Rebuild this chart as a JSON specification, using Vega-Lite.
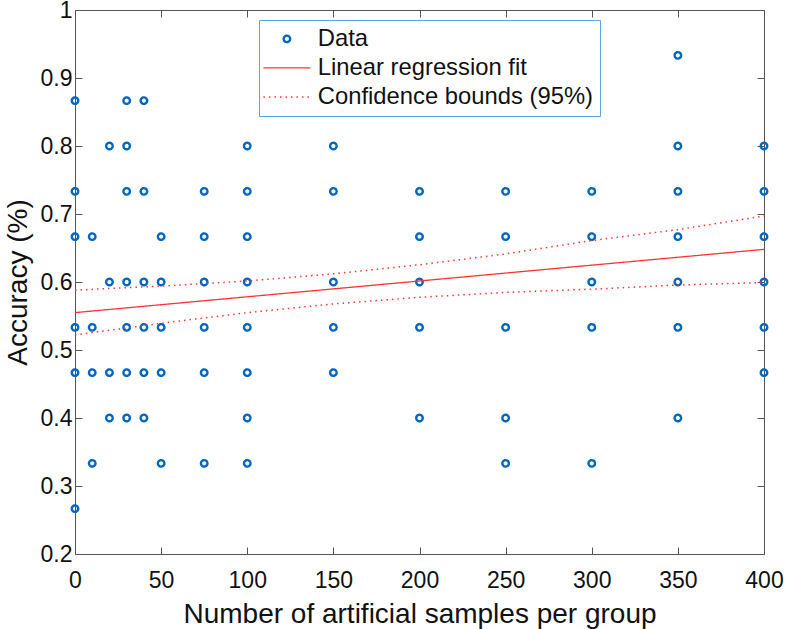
{
  "$schema": "https://vega.github.io/schema/vega-lite/v6.json",
  "width": 689,
  "height": 544,
  "autosize": "none",
  "padding": {"left": 75, "top": 10, "right": 21, "bottom": 75},
  "background": "white",
  "datasets": {
    "points": [
      {"n": 0, "acc": 0.8667, "series": "Data"},
      {"n": 0, "acc": 0.7333, "series": "Data"},
      {"n": 0, "acc": 0.6667, "series": "Data"},
      {"n": 0, "acc": 0.5333, "series": "Data"},
      {"n": 0, "acc": 0.4667, "series": "Data"},
      {"n": 0, "acc": 0.2667, "series": "Data"},
      {"n": 10, "acc": 0.6667, "series": "Data"},
      {"n": 10, "acc": 0.5333, "series": "Data"},
      {"n": 10, "acc": 0.4667, "series": "Data"},
      {"n": 10, "acc": 0.3333, "series": "Data"},
      {"n": 20, "acc": 0.8, "series": "Data"},
      {"n": 20, "acc": 0.6, "series": "Data"},
      {"n": 20, "acc": 0.4667, "series": "Data"},
      {"n": 20, "acc": 0.4, "series": "Data"},
      {"n": 30, "acc": 0.8667, "series": "Data"},
      {"n": 30, "acc": 0.8, "series": "Data"},
      {"n": 30, "acc": 0.7333, "series": "Data"},
      {"n": 30, "acc": 0.6, "series": "Data"},
      {"n": 30, "acc": 0.5333, "series": "Data"},
      {"n": 30, "acc": 0.4667, "series": "Data"},
      {"n": 30, "acc": 0.4, "series": "Data"},
      {"n": 40, "acc": 0.8667, "series": "Data"},
      {"n": 40, "acc": 0.7333, "series": "Data"},
      {"n": 40, "acc": 0.6, "series": "Data"},
      {"n": 40, "acc": 0.5333, "series": "Data"},
      {"n": 40, "acc": 0.4667, "series": "Data"},
      {"n": 40, "acc": 0.4, "series": "Data"},
      {"n": 50, "acc": 0.6667, "series": "Data"},
      {"n": 50, "acc": 0.6, "series": "Data"},
      {"n": 50, "acc": 0.5333, "series": "Data"},
      {"n": 50, "acc": 0.4667, "series": "Data"},
      {"n": 50, "acc": 0.3333, "series": "Data"},
      {"n": 75, "acc": 0.7333, "series": "Data"},
      {"n": 75, "acc": 0.6667, "series": "Data"},
      {"n": 75, "acc": 0.6, "series": "Data"},
      {"n": 75, "acc": 0.5333, "series": "Data"},
      {"n": 75, "acc": 0.4667, "series": "Data"},
      {"n": 75, "acc": 0.3333, "series": "Data"},
      {"n": 100, "acc": 0.8, "series": "Data"},
      {"n": 100, "acc": 0.7333, "series": "Data"},
      {"n": 100, "acc": 0.6667, "series": "Data"},
      {"n": 100, "acc": 0.6, "series": "Data"},
      {"n": 100, "acc": 0.5333, "series": "Data"},
      {"n": 100, "acc": 0.4667, "series": "Data"},
      {"n": 100, "acc": 0.4, "series": "Data"},
      {"n": 100, "acc": 0.3333, "series": "Data"},
      {"n": 150, "acc": 0.8, "series": "Data"},
      {"n": 150, "acc": 0.7333, "series": "Data"},
      {"n": 150, "acc": 0.6, "series": "Data"},
      {"n": 150, "acc": 0.5333, "series": "Data"},
      {"n": 150, "acc": 0.4667, "series": "Data"},
      {"n": 200, "acc": 0.7333, "series": "Data"},
      {"n": 200, "acc": 0.6667, "series": "Data"},
      {"n": 200, "acc": 0.6, "series": "Data"},
      {"n": 200, "acc": 0.5333, "series": "Data"},
      {"n": 200, "acc": 0.4, "series": "Data"},
      {"n": 250, "acc": 0.7333, "series": "Data"},
      {"n": 250, "acc": 0.6667, "series": "Data"},
      {"n": 250, "acc": 0.5333, "series": "Data"},
      {"n": 250, "acc": 0.4, "series": "Data"},
      {"n": 250, "acc": 0.3333, "series": "Data"},
      {"n": 300, "acc": 0.7333, "series": "Data"},
      {"n": 300, "acc": 0.6667, "series": "Data"},
      {"n": 300, "acc": 0.6, "series": "Data"},
      {"n": 300, "acc": 0.5333, "series": "Data"},
      {"n": 300, "acc": 0.3333, "series": "Data"},
      {"n": 350, "acc": 0.9333, "series": "Data"},
      {"n": 350, "acc": 0.8, "series": "Data"},
      {"n": 350, "acc": 0.7333, "series": "Data"},
      {"n": 350, "acc": 0.6667, "series": "Data"},
      {"n": 350, "acc": 0.6, "series": "Data"},
      {"n": 350, "acc": 0.5333, "series": "Data"},
      {"n": 350, "acc": 0.4, "series": "Data"},
      {"n": 400, "acc": 0.8, "series": "Data"},
      {"n": 400, "acc": 0.7333, "series": "Data"},
      {"n": 400, "acc": 0.6667, "series": "Data"},
      {"n": 400, "acc": 0.6, "series": "Data"},
      {"n": 400, "acc": 0.5333, "series": "Data"},
      {"n": 400, "acc": 0.4667, "series": "Data"}
    ],
    "fit": [
      {"n": 0, "acc": 0.555, "series": "Linear regression fit", "line": "fit"},
      {"n": 400, "acc": 0.648, "series": "Linear regression fit", "line": "fit"},
      {"n": 0, "acc": 0.588, "series": "Confidence bounds (95%)", "line": "upper"},
      {"n": 50, "acc": 0.594, "series": "Confidence bounds (95%)", "line": "upper"},
      {"n": 100, "acc": 0.6015, "series": "Confidence bounds (95%)", "line": "upper"},
      {"n": 150, "acc": 0.612, "series": "Confidence bounds (95%)", "line": "upper"},
      {"n": 200, "acc": 0.6253, "series": "Confidence bounds (95%)", "line": "upper"},
      {"n": 250, "acc": 0.6413, "series": "Confidence bounds (95%)", "line": "upper"},
      {"n": 300, "acc": 0.661, "series": "Confidence bounds (95%)", "line": "upper"},
      {"n": 350, "acc": 0.677, "series": "Confidence bounds (95%)", "line": "upper"},
      {"n": 400, "acc": 0.697, "series": "Confidence bounds (95%)", "line": "upper"},
      {"n": 0, "acc": 0.522, "series": "Confidence bounds (95%)", "line": "lower"},
      {"n": 50, "acc": 0.5393, "series": "Confidence bounds (95%)", "line": "lower"},
      {"n": 100, "acc": 0.5549, "series": "Confidence bounds (95%)", "line": "lower"},
      {"n": 150, "acc": 0.5678, "series": "Confidence bounds (95%)", "line": "lower"},
      {"n": 200, "acc": 0.5775, "series": "Confidence bounds (95%)", "line": "lower"},
      {"n": 250, "acc": 0.5847, "series": "Confidence bounds (95%)", "line": "lower"},
      {"n": 300, "acc": 0.5895, "series": "Confidence bounds (95%)", "line": "lower"},
      {"n": 350, "acc": 0.5955, "series": "Confidence bounds (95%)", "line": "lower"},
      {"n": 400, "acc": 0.5993, "series": "Confidence bounds (95%)", "line": "lower"}
    ]
  },
  "layer": [
    {
      "data": {"name": "points"},
      "mark": {"type": "point", "filled": false, "opacity": 1},
      "encoding": {
        "x": {
          "field": "n", "type": "quantitative",
          "scale": {"domain": [0, 400], "nice": false, "zero": false},
          "axis": {"orient": "bottom", "title": "Number of artificial samples per group", "values": [0, 50, 100, 150, 200, 250, 300, 350, 400], "labelPadding": 22, "titlePadding": 8}
        },
        "y": {
          "field": "acc", "type": "quantitative",
          "scale": {"domain": [0.2, 1], "nice": false, "zero": false},
          "axis": {"orient": "left", "title": "Accuracy (%)", "values": [0.2, 0.3, 0.4, 0.5, 0.6, 0.7, 0.8, 0.9, 1], "format": "~g", "labelPadding": 10, "titlePadding": 8}
        },
        "color": {
          "field": "series", "type": "nominal",
          "scale": {"domain": ["Data", "Linear regression fit", "Confidence bounds (95%)"], "range": ["#0066c0", "#ff3333", "#ff3333"]},
          "legend": {
            "title": null,
            "orient": "none",
            "legendX": 184,
            "legendY": 10,
            "strokeColor": "#5aa8e0",
            "fillColor": "white",
            "padding": 7,
            "labelFont": "Liberation Sans",
            "labelFontSize": 23.8,
            "labelColor": "#111111",
            "labelLimit": 500,
            "labelOffset": 19,
            "symbolOffset": 9,
            "rowPadding": 4
          }
        },
        "shape": {
          "field": "series", "type": "nominal",
          "scale": {"domain": ["Data", "Linear regression fit", "Confidence bounds (95%)"], "range": ["circle", "M-3,0H3", "M-3,0H3"]},
          "legend": {"title": null}
        },
        "size": {
          "field": "series", "type": "nominal",
          "scale": {"type": "ordinal", "domain": ["Data", "Linear regression fit", "Confidence bounds (95%)"], "range": [42, 245, 245]},
          "legend": {"title": null}
        },
        "strokeWidth": {
          "field": "series", "type": "nominal",
          "scale": {"type": "ordinal", "domain": ["Data", "Linear regression fit", "Confidence bounds (95%)"], "range": [2.4, 1.3, 1.5]},
          "legend": {"title": null}
        },
        "strokeDash": {
          "field": "series", "type": "nominal",
          "scale": {"domain": ["Data", "Linear regression fit", "Confidence bounds (95%)"], "range": [[1, 0], [1, 0], [1.5, 4]]},
          "legend": {"title": null}
        }
      }
    },
    {
      "data": {"name": "fit"},
      "transform": [{"filter": "datum.line === 'fit'"}],
      "mark": {"type": "line", "strokeWidth": 1.3},
      "encoding": {
        "x": {"field": "n", "type": "quantitative", "axis": {"orient": "top", "labels": false, "title": null, "values": [0, 50, 100, 150, 200, 250, 300, 350, 400]}},
        "y": {"field": "acc", "type": "quantitative", "axis": {"orient": "right", "labels": false, "title": null, "values": [0.2, 0.3, 0.4, 0.5, 0.6, 0.7, 0.8, 0.9, 1]}},
        "color": {"field": "series", "type": "nominal", "legend": {"title": null}},
        "strokeDash": {"field": "series", "type": "nominal", "legend": {"title": null}}
      }
    },
    {
      "data": {"name": "fit"},
      "transform": [{"filter": "datum.line !== 'fit'"}],
      "mark": {"type": "line", "strokeWidth": 1.5},
      "encoding": {
        "x": {"field": "n", "type": "quantitative", "axis": null},
        "y": {"field": "acc", "type": "quantitative", "axis": null},
        "detail": {"field": "line"},
        "color": {"field": "series", "type": "nominal", "legend": {"title": null}},
        "strokeDash": {"field": "series", "type": "nominal", "legend": {"title": null}}
      }
    }
  ],
  "config": {
    "view": {"stroke": null},
    "font": "Liberation Sans",
    "axis": {
      "grid": false,
      "domainColor": "#555555",
      "tickColor": "#555555",
      "tickSize": -7,
      "labelColor": "#111111",
      "labelFont": "Liberation Sans",
      "labelFontSize": 23,
      "labelFlush": false,
      "titleFont": "Liberation Sans",
      "titleFontSize": 28,
      "titleFontWeight": "normal",
      "titleColor": "#111111"
    }
  }
}
